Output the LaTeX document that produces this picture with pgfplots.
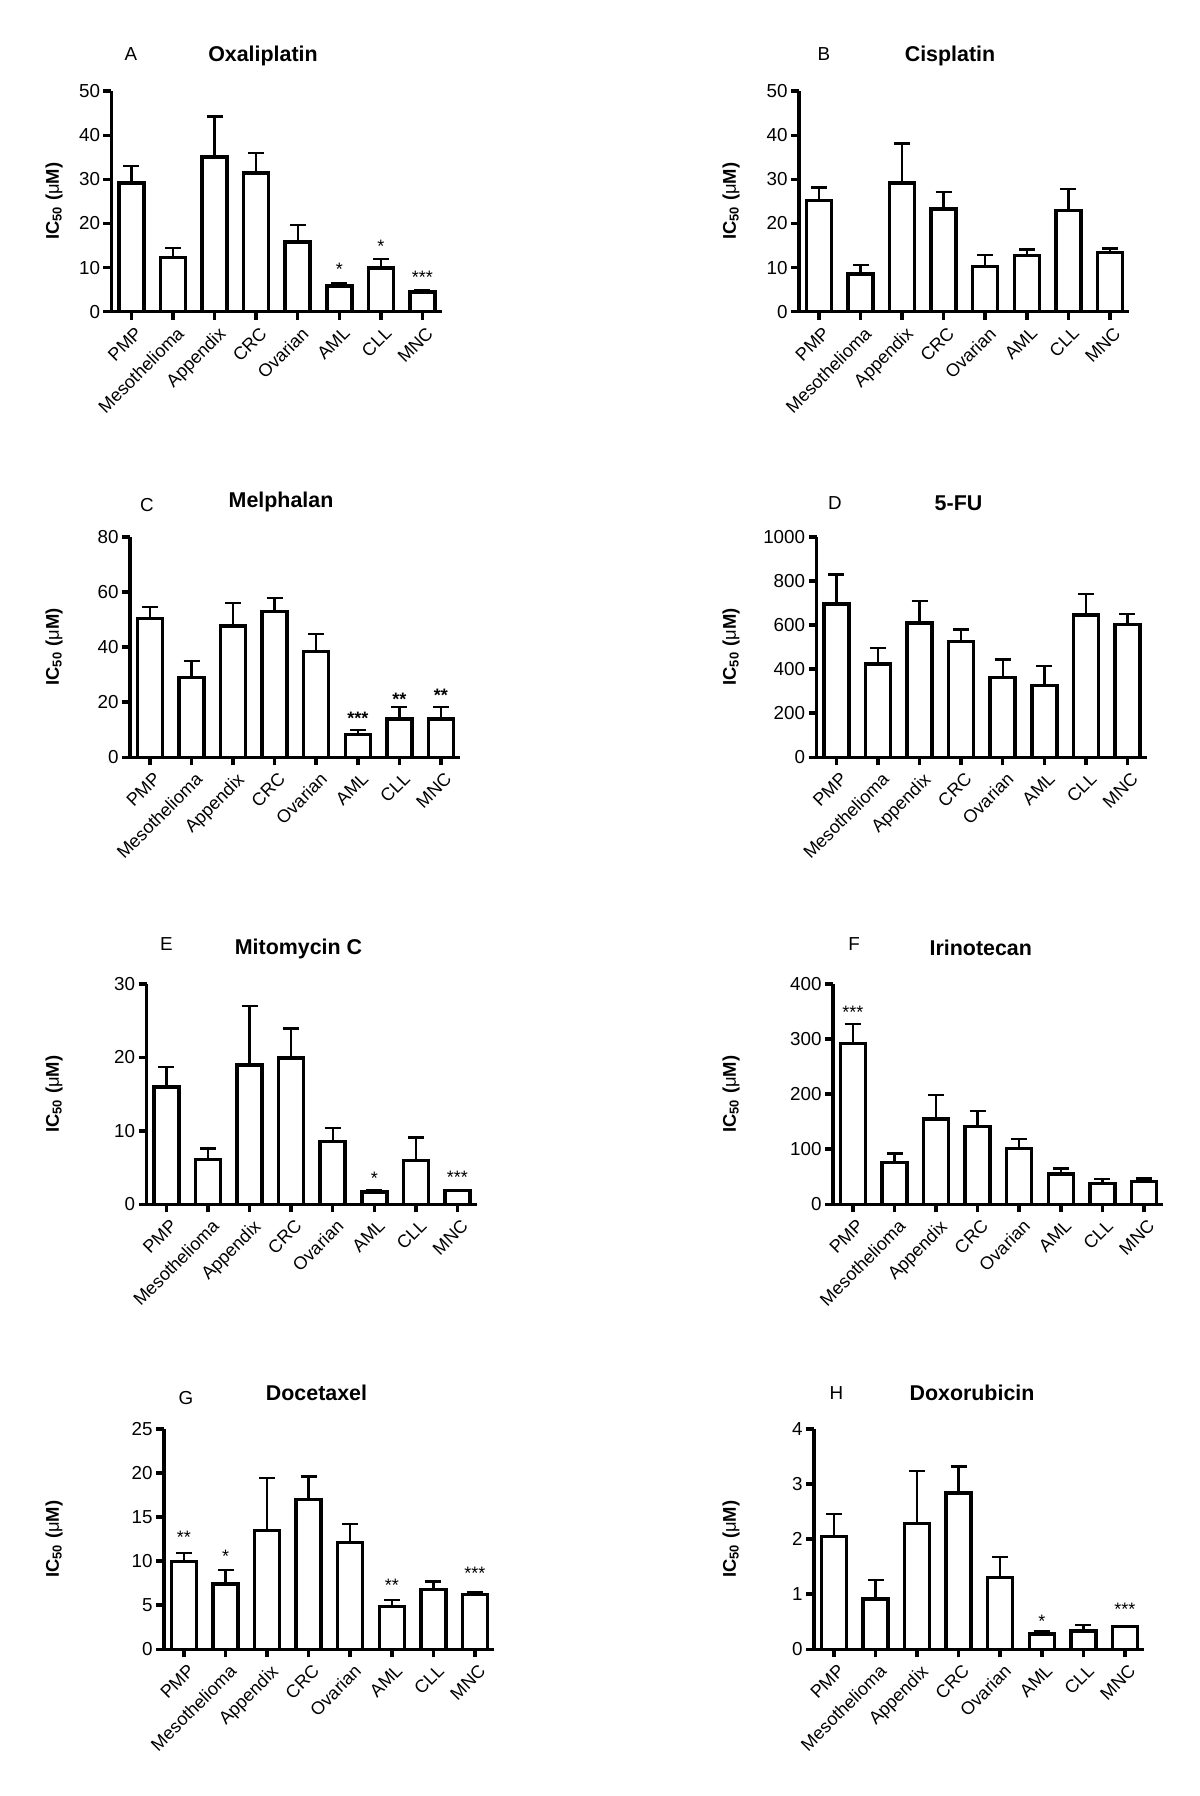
\documentclass[border=0pt]{standalone}
\usepackage{fontspec}
\setmainfont{Liberation Sans}
\usepackage{pgfplots}
\usepackage{pgfplotstable}
\pgfplotsset{compat=1.18}
\newcommand\fs{\fontsize{9}{11}\selectfont}
\newcommand\fy{\fontsize{9.4}{11}\selectfont}
\tikzset{sig/.style={font=\fs, yshift=-1.5pt}}
\pgfplotsset{
  panel/.style={
    scale only axis, width=165.25pt, height=110.25pt,
    anchor=south west,
    axis x line=bottom, axis y line=left,
    axis line style={-, line width=1.75pt},
    xmin=-0.48, xmax=7.47, ymin=0, enlargelimits=false,
    xtick={0,...,7},
    xticklabels={PMP,Mesothelioma,Appendix,CRC,Ovarian,AML,CLL,MNC},
    xticklabel style={rotate=45, anchor=north east, font=\fs, inner sep=1pt, yshift=-2pt},
    yticklabel style={font=\fy, inner sep=1.5pt},
    tick align=outside, major tick length=4pt,
    every tick/.style={black, line width=1.75pt},
    /pgf/number format/assume math mode=true,
    /pgf/number format/1000 sep={},
    clip=false,
  },
  bars/.style={ybar, bar width=12.5pt, fill=white, draw=black, line width=1.75pt,
    error bars/.cd, y dir=plus, y explicit, error mark=|,
    error bar style={line width=1.2pt, black},
    error mark options={line width=1.2pt, mark size=4pt, black}},
}
\newcommand\ylab{{\bfseries IC\textsubscript{50} (\textmd{μ}M)}}
\begin{document}
\begin{tikzpicture}
\useasboundingbox (0,0) rectangle (600pt,-898pt);
% ---------- A
\begin{axis}[panel, at={(55.75pt,-155.85pt)}, ymax=50, ytick={0,10,...,50}]
\addplot[bars] table[x=x,y=y,y error=e] {
x y e
0 29.2 3.8
1 12.3 2.2
2 35.1 9.2
3 31.4 4.6
4 15.8 3.9
5 5.8 0.6
6 9.9 2.1
7 4.5 0.4
};
\node[sig] at (axis cs:5,10.2) {*};
\node[sig] at (axis cs:6,15.6) {*};
\node[sig] at (axis cs:7,8.5) {***};
\end{axis}
% ---------- B
\begin{axis}[panel, at={(399.5pt,-155.85pt)}, ymax=50, ytick={0,10,...,50}]
\addplot[bars] table[x=x,y=y,y error=e] {
x y e
0 25.2 3.0
1 8.5 2.1
2 29.2 8.9
3 23.3 3.9
4 10.3 2.5
5 12.8 1.3
6 22.9 4.9
7 13.4 0.9
};
\end{axis}
% ---------- C
\begin{axis}[panel, at={(65pt,-378.65pt)}, ymax=80, ytick={0,20,...,80}]
\addplot[bars] table[x=x,y=y,y error=e] {
x y e
0 50.4 4.2
1 29.0 6.0
2 47.6 8.4
3 52.9 4.9
4 38.4 6.4
5 8.3 1.6
6 13.9 4.3
7 13.9 4.3
};
\node[sig, font=\fs\bfseries] at (axis cs:5,15.1) {***};
\node[sig, font=\fs\bfseries] at (axis cs:6,22) {**};
\node[sig, font=\fs\bfseries] at (axis cs:7,23.6) {**};
\end{axis}
% ---------- D
\begin{axis}[panel, at={(408.25pt,-378.65pt)}, ymax=1000, ytick={0,200,...,1000}]
\addplot[bars] table[x=x,y=y,y error=e] {
x y e
0 696 133
1 423 74
2 610 100
3 526 53
4 363 80
5 326 89
6 645 97
7 603 47
};
\end{axis}
% ---------- E
\begin{axis}[panel, at={(73.25pt,-602.15pt)}, ymax=30, ytick={0,10,...,30}]
\addplot[bars] table[x=x,y=y,y error=e] {
x y e
0 15.95 2.75
1 6.1 1.5
2 18.95 8.0
3 19.9 4.0
4 8.55 1.85
5 1.7 0.25
6 5.95 3.15
7 1.9 0.05
};
\node[sig] at (axis cs:5,4.0) {*};
\node[sig] at (axis cs:7,4.1) {***};
\end{axis}
% ---------- F
\begin{axis}[panel, at={(416.5pt,-602.15pt)}, ymax=400, ytick={0,100,...,400}]
\addplot[bars] table[x=x,y=y,y error=e] {
x y e
0 292 35
1 76 16
2 155 43
3 141 28
4 101 17
5 55 10
6 38 8
7 41 6
};
\node[sig] at (axis cs:0,353) {***};
\end{axis}
% ---------- G
\begin{axis}[panel, at={(82pt,-824.65pt)}, ymax=25, ytick={0,5,...,25}]
\addplot[bars] table[x=x,y=y,y error=e] {
x y e
0 9.98 0.92
1 7.4 1.6
2 13.46 5.94
3 17.0 2.6
4 12.1 2.1
5 4.84 0.76
6 6.8 0.9
7 6.2 0.3
};
\node[sig] at (axis cs:0,13.0) {**};
\node[sig] at (axis cs:1,10.9) {*};
\node[sig] at (axis cs:5,7.6) {**};
\node[sig] at (axis cs:7,9.0) {***};
\end{axis}
% ---------- H
\begin{axis}[panel, at={(407pt,-824.65pt)}, ymax=4, ytick={0,1,...,4}]
\addplot[bars] table[x=x,y=y,y error=e] {
x y e
0 2.05 0.41
1 0.91 0.35
2 2.28 0.96
3 2.84 0.48
4 1.30 0.37
5 0.28 0.05
6 0.33 0.11
7 0.41 0.01
};
\node[sig] at (axis cs:5,0.56) {*};
\node[sig] at (axis cs:7,0.78) {***};
\end{axis}
% titles, panel letters, y labels
\begin{scope}[every node/.style={font=\fontsize{10.7}{12}\selectfont\bfseries}]
\node at (131.5pt,-28pt) {Oxaliplatin};
\node at (475pt,-28pt) {Cisplatin};
\node at (140.5pt,-250.85pt) {Melphalan};
\node at (479.25pt,-251.65pt) {5-FU};
\node at (149.25pt,-474.65pt) {Mitomycin C};
\node at (490.4pt,-474.15pt) {Irinotecan};
\node at (158.25pt,-696.65pt) {Docetaxel};
\node at (486pt,-696.65pt) {Doxorubicin};
\end{scope}
\begin{scope}[every node/.style={font=\fy}]
\node at (65.5pt,-27.2pt) {A};
\node at (412pt,-27pt) {B};
\node at (73.5pt,-252.5pt) {C};
\node at (417.5pt,-251.35pt) {D};
\node at (83.25pt,-472.15pt) {E};
\node at (427pt,-472pt) {F};
\node at (93pt,-698.85pt) {G};
\node at (418.25pt,-696.65pt) {H};
\end{scope}
\begin{scope}[every node/.style={font=\fontsize{9.2}{11}\selectfont, rotate=90}]
\node at (27pt,-100.6pt) {\ylab};
\node at (365.5pt,-100.6pt) {\ylab};
\node at (27pt,-323.5pt) {\ylab};
\node at (365.5pt,-323.5pt) {\ylab};
\node at (27pt,-547.15pt) {\ylab};
\node at (365.5pt,-547.15pt) {\ylab};
\node at (27pt,-769.6pt) {\ylab};
\node at (365.5pt,-769.6pt) {\ylab};
\end{scope}
\end{tikzpicture}
\end{document}
